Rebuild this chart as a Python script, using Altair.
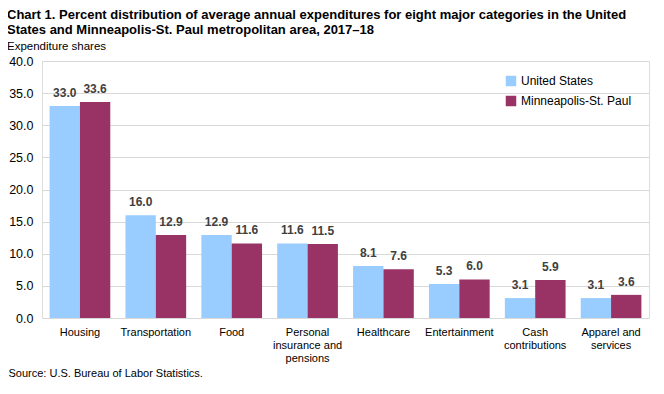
import altair as alt
import pandas as pd

categories = ["Housing", "Transportation", "Food", "Personal insurance and pensions",
              "Healthcare", "Entertainment", "Cash contributions", "Apparel and services"]
us_values = [33.0, 16.0, 12.9, 11.6, 8.1, 5.3, 3.1, 3.1]
msp_values = [33.6, 12.9, 11.6, 11.5, 7.6, 6.0, 5.9, 3.6]
series = ["United States", "Minneapolis-St. Paul"]
colors = ["#99CCFF", "#993366"]
y_ticks = [0, 5, 10, 15, 20, 25, 30, 35, 40]

rows = []
for c, u, m in zip(categories, us_values, msp_values):
    rows.append({"category": c, "series": series[0], "value": u})
    rows.append({"category": c, "series": series[1], "value": m})
df = pd.DataFrame(rows)

FONT = "Liberation Sans"

label_expr = ("datum.label == 'Personal insurance and pensions' ? ['Personal','insurance and','pensions'] : "
              "datum.label == 'Cash contributions' ? ['Cash','contributions'] : "
              "datum.label == 'Apparel and services' ? ['Apparel and','services'] : datum.label")

x = alt.X("category:N", sort=categories,
          scale=alt.Scale(paddingInner=0.2, paddingOuter=0.1),
          axis=alt.Axis(labelAngle=0, labelExpr=label_expr, ticks=False, domain=False,
                        labelFont=FONT, labelFontSize=11, labelColor="#000000", labelPadding=8,
                        labelLineHeight=13,
                        title="Source: U.S. Bureau of Labor Statistics.", titleFont=FONT,
                        titleFontSize=11, titleFontWeight="normal", titleColor="#000000",
                        titleAnchor="start", titleAlign="left", titleBaseline="alphabetic",
                        titleX=-34, titleY=58))
y = alt.Y("value:Q", scale=alt.Scale(domain=[0, 40], nice=False),
          axis=alt.Axis(values=y_ticks, format=".1f", title=None, labelOverlap=False,
                        ticks=False, domain=False, grid=True, gridColor="#D9D9D9",
                        labelFont=FONT, labelFontSize=12.5, labelColor="#000000", labelPadding=9))
xo = alt.XOffset("series:N", sort=series)
color = alt.Color("series:N", sort=series, scale=alt.Scale(domain=series, range=colors),
                  legend=alt.Legend(title=None, orient="none", legendX=463, legendY=14,
                                    symbolType="square", symbolSize=110, symbolStrokeWidth=0,
                                    labelFont=FONT, labelFontSize=12, labelColor="#000000",
                                    rowPadding=8, labelOffset=4))

base = alt.Chart(df).encode(x=x, y=y, xOffset=xo)
bars = base.mark_bar().encode(color=color)
labels = base.mark_text(dy=-13, font=FONT, fontSize=12, fontWeight="bold",
                        color="#404040").encode(text=alt.Text("value:Q", format=".1f"))

chart = alt.layer(bars, labels).properties(
    width=607, height=257,
    autosize=alt.AutoSizeParams(type="none"),
    padding={"left": 34, "top": 53, "right": 7, "bottom": 68},
    title=alt.TitleParams(
        text=["Chart 1. Percent distribution  of average annual expenditures for eight major categories in the United",
              "States and Minneapolis-St. Paul metropolitan area, 2017\u201318"],
        subtitle="Expenditure shares",
        anchor="start", frame="group", dx=-35, font=FONT, fontSize=13, fontWeight="bold",
        color="#000000", lineHeight=15, subtitleFont=FONT, subtitleFontSize=11.5,
        subtitleColor="#000000", subtitlePadding=4, offset=3),
).configure_view(stroke="#000000", strokeWidth=1).configure(background="white")

chart.save("out.html", embed_options={"renderer": "svg", "actions": False})
